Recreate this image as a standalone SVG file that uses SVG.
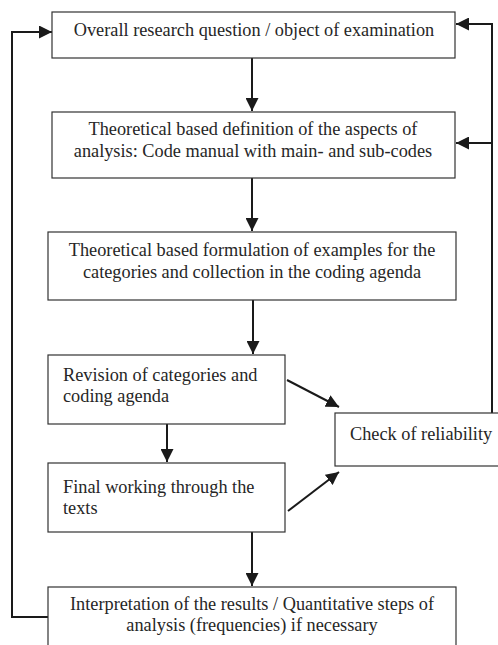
<svg xmlns="http://www.w3.org/2000/svg" width="498" height="645" viewBox="0 0 498 645">
  <style>
    .box { fill: #ffffff; stroke: #333333; stroke-width: 1.2; }
    .lbl { font-family: "Liberation Serif", "Times New Roman", serif; font-size: 18.3px; fill: #262626; }
    .mid { text-anchor: middle; }
    .wire { fill: none; stroke: #1a1a1a; stroke-width: 2; }
  </style>
  <defs>
    <marker id="head" viewBox="0 0 10 10" refX="10" refY="5" markerWidth="6.5" markerHeight="6.5" orient="auto" markerUnits="strokeWidth">
      <path d="M0,0 L10,5 L0,10 Z" fill="#1a1a1a"/>
    </marker>
  </defs>
  <rect width="498" height="645" fill="#ffffff"/>

  <g id="connectors">
    <line class="wire" x1="252" y1="58" x2="252" y2="111" marker-end="url(#head)"/>
    <line class="wire" x1="252" y1="178" x2="252" y2="231" marker-end="url(#head)"/>
    <line class="wire" x1="253" y1="300" x2="253" y2="354" marker-end="url(#head)"/>
    <line class="wire" x1="167" y1="424" x2="167" y2="462" marker-end="url(#head)"/>
    <line class="wire" x1="252" y1="532" x2="252" y2="586" marker-end="url(#head)"/>
    <line class="wire" x1="287" y1="380" x2="339" y2="407" marker-end="url(#head)"/>
    <line class="wire" x1="288" y1="511" x2="339" y2="472" marker-end="url(#head)"/>
    <!-- feedback loop from the result box back to the top -->
    <polyline class="wire" points="48,617 12,617 12,32 52,32" marker-end="url(#head)"/>
    <!-- feedback loop from reliability check back to the top -->
    <polyline class="wire" points="492,413 492,24 456,24" marker-end="url(#head)"/>
    <line class="wire" x1="492" y1="143" x2="456" y2="143" marker-end="url(#head)"/>
  </g>

  <g id="n1">
    <rect class="box" x="52" y="12" width="403" height="46"/>
    <text class="lbl mid" x="254" y="36">Overall research question / object of examination</text>
  </g>
  <g id="n2">
    <rect class="box" x="52" y="112" width="403" height="66"/>
    <text class="lbl mid" x="253" y="135">Theoretical based definition of the aspects of</text>
    <text class="lbl mid" x="253" y="157">analysis: Code manual with main- and sub-codes</text>
  </g>
  <g id="n3">
    <rect class="box" x="48" y="232" width="408" height="68"/>
    <text class="lbl mid" x="252" y="256">Theoretical based formulation of examples for the</text>
    <text class="lbl mid" x="252" y="278">categories and collection in the coding agenda</text>
  </g>
  <g id="n4">
    <rect class="box" x="48" y="355" width="237" height="69"/>
    <text class="lbl" x="63" y="381">Revision of categories and</text>
    <text class="lbl" x="63" y="402">coding agenda</text>
  </g>
  <g id="n5">
    <rect class="box" x="335" y="413" width="170" height="53"/>
    <text class="lbl" x="350" y="440">Check of reliability</text>
  </g>
  <g id="n6">
    <rect class="box" x="48" y="463" width="237" height="69"/>
    <text class="lbl" x="63" y="493">Final working through the</text>
    <text class="lbl" x="63" y="514">texts</text>
  </g>
  <g id="n7">
    <rect class="box" x="48" y="587" width="408" height="70"/>
    <text class="lbl mid" x="252" y="610">Interpretation of the results / Quantitative steps of</text>
    <text class="lbl mid" x="252" y="631">analysis (frequencies) if necessary</text>
  </g>
</svg>
